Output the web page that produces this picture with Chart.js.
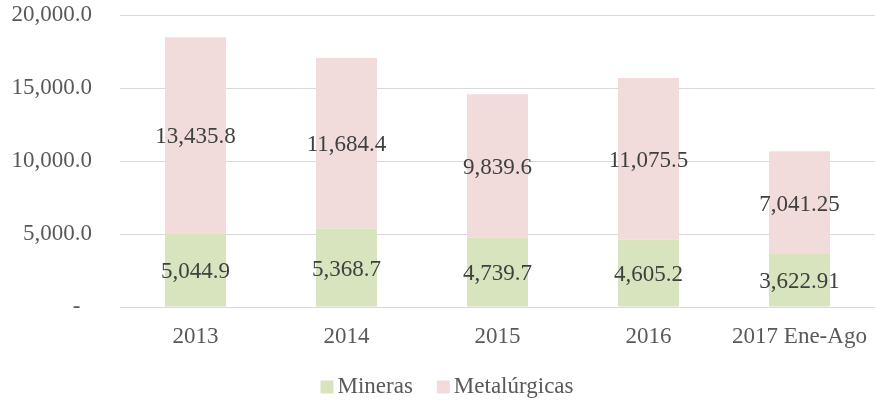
<!DOCTYPE html>
<html>
<head>
<meta charset="utf-8">
<script src="https://cdn.jsdelivr.net/npm/chart.js@4/dist/chart.umd.min.js"></script>
<style>
  html, body { margin: 0; padding: 0; background: #fff; }
  #wrap { width: 875px; height: 400px; }
</style>
</head>
<body>
<div id="wrap"><canvas id="chart"></canvas></div>
<script>
const categories = ['2013', '2014', '2015', '2016', '2017 Ene-Ago'];
const mineras = [5044.9, 5368.7, 4739.7, 4605.2, 3622.91];
const metalurgicas = [13435.8, 11684.4, 9839.6, 11075.5, 7041.25];
const yTicks = [0, 5000, 10000, 15000, 20000];

const FONT = "'Liberation Serif', 'Times New Roman', serif";

function fmtValue(v) {
  const s = String(v);
  const dec = s.includes('.') ? s.split('.')[1].length : 0;
  return v.toLocaleString('en-US', { minimumFractionDigits: dec, maximumFractionDigits: dec });
}

// value labels centred inside each stacked segment
const segmentLabels = {
  id: 'segmentLabels',
  afterDatasetsDraw(chart) {
    const ctx = chart.ctx;
    ctx.save();
    ctx.font = '23px ' + FONT;
    ctx.fillStyle = '#404040';
    ctx.textAlign = 'center';
    ctx.textBaseline = 'middle';
    chart.data.datasets.forEach((ds, di) => {
      const meta = chart.getDatasetMeta(di);
      meta.data.forEach((el, i) => {
        ctx.fillText(fmtValue(ds.data[i]), el.x, (el.y + el.base) / 2 + 2);
      });
    });
    ctx.restore();
  }
};

// legend row under the axis: square swatch followed by the series name
const bottomLegend = {
  id: 'bottomLegend',
  afterDraw(chart) {
    const ctx = chart.ctx;
    ctx.save();
    ctx.font = '23px ' + FONT;
    ctx.textBaseline = 'middle';
    ctx.textAlign = 'left';
    const box = 13, gap = 4, between = 24;
    const items = chart.data.datasets.map(ds => ({ text: ds.label, color: ds.backgroundColor, w: ctx.measureText(ds.label).width }));
    const total = items.reduce((a, it) => a + box + gap + it.w, 0) + between * (items.length - 1);
    let x = 447 - total / 2;
    const cy = 387;
    items.forEach(it => {
      ctx.fillStyle = it.color;
      ctx.fillRect(x, cy - box / 2, box, box);
      x += box + gap;
      ctx.fillStyle = '#595959';
      ctx.fillText(it.text, x, cy);
      x += it.w + between;
    });
    ctx.restore();
  }
};

new Chart(document.getElementById('chart'), {
  type: 'bar',
  data: {
    labels: categories,
    datasets: [
      { label: 'Mineras', data: mineras, backgroundColor: '#d7e4bd', barPercentage: 0.404, categoryPercentage: 1 },
      { label: 'Metalúrgicas', data: metalurgicas, backgroundColor: '#f2dcdb', barPercentage: 0.404, categoryPercentage: 1 }
    ]
  },
  options: {
    responsive: true,
    maintainAspectRatio: false,
    animation: false,
    layout: { padding: { top: 15, right: 0, left: 0, bottom: 0 } },
    plugins: { legend: { display: false }, tooltip: { enabled: false } },
    scales: {
      x: {
        stacked: true,
        grid: { display: false, drawTicks: false },
        border: { display: true, color: '#d9d9d9', width: 1 },
        ticks: { color: '#595959', font: { family: FONT, size: 23 }, padding: 16, maxRotation: 0, autoSkip: false },
        afterFit(s) { s.height = 93; s.paddingLeft = 0; s.paddingRight = 0; }
      },
      y: {
        stacked: true,
        min: 0,
        max: 20000,
        afterBuildTicks(s) { s.ticks = yTicks.map(v => ({ value: v })); },
        grid: { color: '#d9d9d9', lineWidth: 1, drawTicks: false },
        border: { display: false },
        ticks: {
          color: '#595959',
          font: { family: FONT, size: 23 },
          padding: 28,
          callback(v) { return v === 0 ? '-  ' : v.toLocaleString('en-US', { minimumFractionDigits: 1, maximumFractionDigits: 1 }); }
        },
        afterFit(s) { s.width = 120; s.paddingTop = 0; s.paddingBottom = 0; }
      }
    }
  },
  plugins: [segmentLabels, bottomLegend]
});
</script>
</body>
</html>
